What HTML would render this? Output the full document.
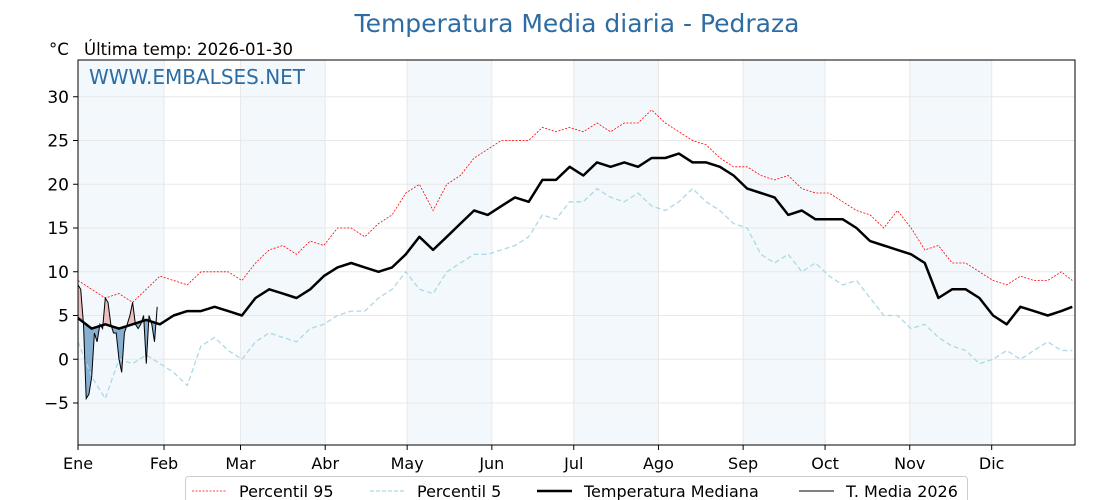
<!DOCTYPE html>
<html><head><meta charset="utf-8"><style>
body{margin:0;background:#fff;font-family:"DejaVu Sans","Liberation Sans",sans-serif}
svg{display:block}
</style></head><body>
<svg id="c" width="1120" height="500" xmlns="http://www.w3.org/2000/svg">
<text x="577" y="32" text-anchor="middle" font-size="25" fill="#2e6da4">Temperatura Media diaria - Pedraza</text>
<text x="49" y="55" font-size="16.5" fill="#000">°C</text>
<text x="84" y="55" font-size="16.5" fill="#000">Última temp: 2026-01-30</text>
<g id="bg"></g><g id="grid"></g><g id="marks"></g><g id="axes"></g>
<text x="89" y="84" font-size="20" fill="#2e6da4">WWW.EMBALSES.NET</text>
<g>
<rect x="185.5" y="476.5" width="782" height="30" rx="3" fill="#fff" stroke="#ccc"/>
<line x1="192" y1="491" x2="227" y2="491" stroke="red" stroke-width="0.8" stroke-dasharray="2,1.5"/>
<text x="239" y="497" font-size="16">Percentil 95</text>
<line x1="370" y1="491" x2="405" y2="491" stroke="#add8e6" stroke-width="1.2" stroke-dasharray="4,2"/>
<text x="417" y="497" font-size="16">Percentil 5</text>
<line x1="537" y1="491" x2="572" y2="491" stroke="#000" stroke-width="2.5"/>
<text x="584" y="497" font-size="16">Temperatura Mediana</text>
<line x1="799" y1="491" x2="834" y2="491" stroke="#000" stroke-width="1"/>
<text x="846" y="497" font-size="16">T. Media 2026</text>
</g>
</svg>
<script>
const months=["Ene","Feb","Mar","Abr","May","Jun","Jul","Ago","Sep","Oct","Nov","Dic"];
const monthStart=[0,31,59,90,120,151,181,212,243,273,304,334];
const yTicks=[-5,0,5,10,15,20,25,30];
const sampleDays=[0,5,10,15,20,25,30,35,40,45,50,55,60,65,70,75,80,85,90,95,100,105,110,115,120,125,130,135,140,145,150,155,160,165,170,175,180,185,190,195,200,205,210,215,220,225,230,235,240,245,250,255,260,265,270,275,280,285,290,295,300,305,310,315,320,325,330,335,340,345,350,355,360,364];
const median=[4.7,3.5,4,3.5,4,4.5,4,5,5.5,5.5,6,5.5,5,7,8,7.5,7,8,9.5,10.5,11,10.5,10,10.5,12,14,12.5,14,15.5,17,16.5,17.5,18.5,18,20.5,20.5,22,21,22.5,22,22.5,22,23,23,23.5,22.5,22.5,22,21,19.5,19,18.5,16.5,17,16,16,16,15,13.5,13,12.5,12,11,7,8,8,7,5,4,6,5.5,5,5.5,6];
const p95=[9,8,7,7.5,6.5,8,9.5,9,8.5,10,10,10,9,11,12.5,13,12,13.5,13,15,15,14,15.5,16.5,19,20,17,20,21,23,24,25,25,25,26.5,26,26.5,26,27,26,27,27,28.5,27,26,25,24.5,23,22,22,21,20.5,21,19.5,19,19,18,17,16.5,15,17,15,12.5,13,11,11,10,9,8.5,9.5,9,9,10,9];
const p5=[2,-2,-4.5,0,-0.5,0.5,-0.5,-1.5,-3,1.5,2.5,1,0,2,3,2.5,2,3.5,4,5,5.5,5.5,7,8,10,8,7.5,10,11,12,12,12.5,13,14,16.5,16,18,18,19.5,18.5,18,19,17.5,17,18,19.5,18,17,15.5,15,12,11,12,10,11,9.5,8.5,9,7,5,5,3.5,4,2.5,1.5,1,-0.5,0,1,0,1,2,1,1];
const t2026=[8.5,8,4,-4.5,-4,-2,3,2,4,3.5,7,6.5,4,3,3,0,-1.5,3,4,5,6.5,4,3.5,4,5,-0.5,5,4,2,6];

const X0=78,X1=1075,Y0=60,Y1=445,YMIN=-9.8,YMAX=34.2;
const x=d=>X0+(X1-X0)*d/365;
const y=v=>Y1-(Y1-Y0)*(v-YMIN)/(YMAX-YMIN);
const NS="http://www.w3.org/2000/svg";
function el(tag,attrs,parent){const e=document.createElementNS(NS,tag);for(const k in attrs)e.setAttribute(k,attrs[k]);parent.appendChild(e);return e;}
const bg=document.getElementById('bg'),grid=document.getElementById('grid'),marks=document.getElementById('marks'),axes=document.getElementById('axes');
months.forEach((m,i)=>{
  const s=monthStart[i]+(i?0.5:0),e=i<11?monthStart[i+1]+0.5:365;
  if(i%2===0){const r=el('rect',{x:x(s),y:Y0,width:x(e)-x(s),height:Y1-Y0,fill:'#f3f8fc'},bg);
  
  }
  const g=el('line',{x1:x(s),x2:x(s),y1:Y0,y2:Y1,stroke:'#e8e8e8','stroke-width':1},grid);
  
  
  const t=el('line',{x1:x(s),x2:x(s),y1:Y1,y2:Y1+5,stroke:'#000'},axes);
  
  
  const tx=el('text',{x:x(s),y:Y1+24,'font-size':16,'text-anchor':'middle'},axes);tx.textContent=m;
  
  
});
yTicks.forEach(v=>{
  const g=el('line',{x1:X0,x2:X1,y1:y(v),y2:y(v),stroke:'#e8e8e8'},grid);
  
  
  const t=el('line',{x1:X0-5,x2:X0,y1:y(v),y2:y(v),stroke:'#000'},axes);
  
  
  const tx=el('text',{x:X0-9,y:y(v)+6,'font-size':17,'text-anchor':'end'},axes);tx.textContent=(v<0?'\u2212'+(-v):v);
  
  
});
const fr=el('rect',{x:X0,y:Y0,width:X1-X0,height:Y1-Y0,fill:'none',stroke:'#000','stroke-width':1},axes);



const pts=(days,vals)=>days.map((d,i)=>x(d).toFixed(1)+','+y(vals[i]).toFixed(1)).join(' ');
const tDays=t2026.map((_,i)=>i);
function medAt(d){for(let i=0;i<sampleDays.length-1;i++){if(d<=sampleDays[i+1]){const f=(d-sampleDays[i])/(sampleDays[i+1]-sampleDays[i]);return median[i]+f*(median[i+1]-median[i]);}}return median[median.length-1];}
const medOnT=tDays.map(medAt);
const defs=el('defs',{},marks);
const medPath=pts(sampleDays,median);
const ca=el('clipPath',{id:'above'},defs);el('polygon',{points:x(0)+','+Y0+' '+medPath+' '+x(365)+','+Y0},ca);
const cb=el('clipPath',{id:'below'},defs);el('polygon',{points:x(0)+','+Y1+' '+medPath+' '+x(365)+','+Y1},cb);
const fillPts=pts(tDays,t2026)+' '+pts(tDays.slice().reverse(),medOnT.slice().reverse());
const fa=el('polygon',{points:fillPts,fill:'#e89a9a','fill-opacity':0.6,'clip-path':'url(#above)'},marks);


const fb=el('polygon',{points:fillPts,fill:'#3f7fb5','fill-opacity':0.6,'clip-path':'url(#below)'},marks);


const l95=el('polyline',{points:pts(sampleDays,p95),fill:'none',stroke:'red','stroke-width':0.8,'stroke-dasharray':'2,1.5'},marks);


const l5=el('polyline',{points:pts(sampleDays,p5),fill:'none',stroke:'#add8e6','stroke-width':1.3,'stroke-dasharray':'5,3'},marks);


const lm=el('polyline',{points:medPath,fill:'none',stroke:'#000','stroke-width':2.5,'stroke-linejoin':'round'},marks);


const lt=el('polyline',{points:pts(tDays,t2026),fill:'none',stroke:'#000','stroke-width':1},marks);


</script>
</body></html>
